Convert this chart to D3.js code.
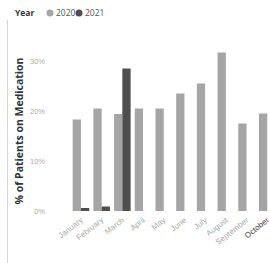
<!DOCTYPE html>
<html>
<head>
<meta charset="utf-8">
<script src="https://cdn.jsdelivr.net/npm/d3@7"></script>
<style>
	body { margin: 0; background: #fff; }
	svg { display: block; font-family: "Open Sans", "DejaVu Sans", sans-serif; }
</style>
</head>
<body>
<div id="chart-area"></div>
<script>
const months = ["January", "February", "March", "April", "May", "June", "July", "August", "September", "October"];
const years = ["2020", "2021"];
const values2020 = [18.3, 20.5, 19.4, 20.5, 20.5, 23.5, 25.5, 31.7, 17.5, 19.5];
const values2021 = [0.6, 0.9, 28.5, null, null, null, null, null, null, null];
const yTicks = [0, 10, 20, 30];

const colors = { "2020": "#a5a5a5", "2021": "#4e4e4e" };

const W = 270, H = 263;
const plotTop = 61, plotBottom = 211; // 30% .. 0%

const svg = d3.select("#chart-area").append("svg")
	.attr("width", W)
	.attr("height", H);

// left border line
svg.append("line")
	.attr("x1", 7.5).attr("x2", 7.5)
	.attr("y1", 20).attr("y2", H)
	.attr("stroke", "#d6d6d6");

// legend
const legend = svg.append("g").attr("transform", "translate(15, 13)");
legend.append("text")
	.attr("y", 3)
	.attr("font-size", "8.5px")
	.attr("font-weight", "bold")
	.attr("fill", "#333")
	.text("Year");
let lx = 31;
years.forEach(yr => {
	legend.append("circle")
		.attr("cx", lx + 4).attr("cy", 0)
		.attr("r", 3.5)
		.attr("fill", colors[yr]);
	legend.append("text")
		.attr("x", lx + 10).attr("y", 3)
		.attr("font-size", "8.5px")
		.attr("fill", "#555")
		.text(yr);
	lx += 29;
});

const x = d3.scaleBand().domain(months).range([70.6, 277.6]).paddingInner(0.2).paddingOuter(0.1);
const x1 = d3.scaleBand().domain(years).range([0, x.bandwidth()]);
const y = d3.scaleLinear().domain([0, 30]).range([plotBottom, plotTop]);

// y axis
const yAxisCall = d3.axisLeft(y)
	.tickValues(yTicks)
	.tickSize(0)
	.tickPadding(0)
	.tickFormat(d => `${d}%`);
svg.append("g")
	.attr("class", "y-axis")
	.attr("transform", "translate(45, 0)")
	.call(yAxisCall)
	.call(g => g.select(".domain").remove())
	.selectAll("text")
	.attr("font-size", "7.5px")
	.attr("fill", "#aaa");

// y axis title
svg.append("text")
	.attr("transform", "rotate(-90)")
	.attr("x", -131)
	.attr("y", 23)
	.attr("text-anchor", "middle")
	.attr("font-size", "10.5px")
	.attr("font-weight", "bold")
	.attr("fill", "#333")
	.text("% of Patients on Medication");

// bars
const rows = months.map((m, i) => ({ month: m, "2020": values2020[i], "2021": values2021[i] }));
const groups = svg.selectAll(".grp").data(rows).enter()
	.append("g")
	.attr("transform", d => `translate(${x(d.month)}, 0)`);
groups.selectAll("rect")
	.data(d => years.filter(yr => d[yr] !== null).map(yr => ({ year: yr, value: d[yr] })))
	.enter()
	.append("rect")
	.attr("x", d => x1(d.year))
	.attr("y", d => y(d.value))
	.attr("width", x1.bandwidth())
	.attr("height", d => y(0) - y(d.value))
	.attr("fill", d => colors[d.year]);

// x axis labels
const xAxisCall = d3.axisBottom(x).tickSize(0).tickPadding(0);
svg.append("g")
	.attr("class", "x-axis")
	.attr("transform", `translate(0, ${plotBottom + 7})`)
	.call(xAxisCall)
	.call(g => g.select(".domain").remove())
	.selectAll("text")
	.attr("font-size", "8px")
	.attr("fill", d => d === "October" ? "#444" : "#aaa")
	.attr("text-anchor", "end")
	.attr("dy", "0.5em")
	.attr("transform", "rotate(-38)");
</script>
</body>
</html>
